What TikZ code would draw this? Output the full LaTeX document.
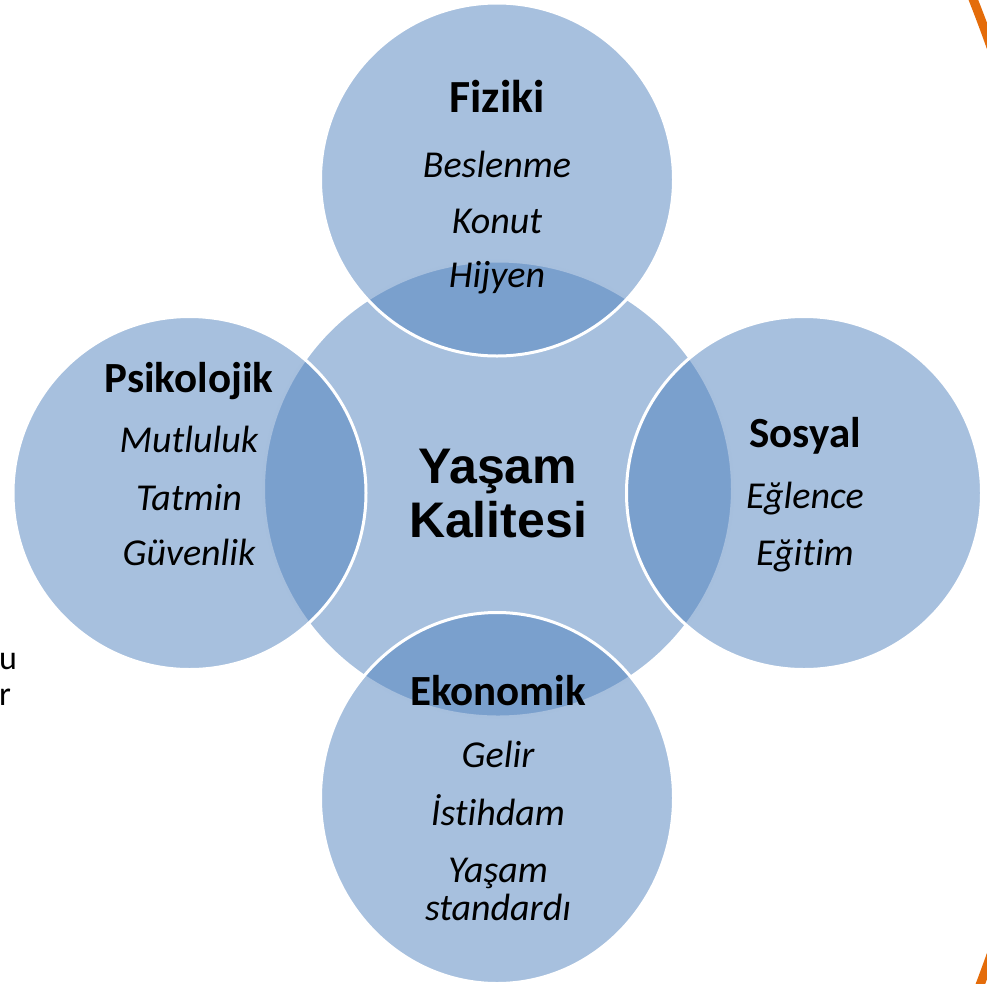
\documentclass[tikz,border=0pt]{standalone}
\usepackage{fontspec}
\setmainfont{Carlito}[RawFeature=-liga]
\newfontfamily\arialfont{Liberation Sans}
\usetikzlibrary{shapes.geometric}
\definecolor{qblue}{HTML}{4F81BD}
\definecolor{qorange}{HTML}{E46C0A}
\begin{document}
\begin{tikzpicture}[x=1pt,y=-1pt,
  bubble/.style={ellipse, inner sep=0pt, fill=qblue, fill opacity=0.5, draw=white, draw opacity=1, line width=3pt},
  head/.style={anchor=base, inner sep=0pt, font=\fontsize{43}{50}\selectfont\bfseries},
  item/.style={anchor=base, inner sep=0pt, font=\fontsize{38}{44}\selectfont\itshape},
  core/.style={anchor=base, inner sep=0pt, font=\arialfont\fontsize{50}{54}\selectfont\bfseries},
  stray/.style={anchor=base west, inner sep=0pt, font=\fontsize{34}{40}\selectfont},
  rim/.style={draw=qorange, line width=9pt}
]
\useasboundingbox (0,0) rectangle (987,983);
\begin{scope}
  \clip (0,0) rectangle (987,983);
  \coordinate (rimc) at (-295,501);
  \draw[rim] (rimc) circle[radius=1363.4];
\end{scope}

% circles
\node[bubble, minimum width=469pt, minimum height=456pt] (center) at (498,489) {};
\node[bubble, minimum width=353pt, minimum height=353pt] (fiz) at (497,179.5) {};
\node[bubble, minimum width=355pt, minimum height=353pt] (sos) at (804,493) {};
\node[bubble, minimum width=353pt, minimum height=371pt] (eko) at (497,798) {};
\node[bubble, minimum width=353pt, minimum height=353pt] (psi) at (189.5,493) {};

% centre text
\node[core] (t1) at (498,483) {Yaşam};
\node[core] (t2) at (498,537) {Kalitesi};

% Fiziki
\node[head, font=\fontsize{46}{52}\selectfont\bfseries] (fh) at (497,112) {Fiziki};
\node[item] (f1) at (497,177) {Beslenme};
\node[item] (f2) at (497,233) {Konut};
\node[item] (f3) at (497,287) {Hijyen};

% Psikolojik
\node[head] (ph) at (189,392) {Psikolojik};
\node[item] (p1) at (189,452) {Mutluluk};
\node[item] (p2) at (189,510) {Tatmin};
\node[item] (p3) at (189,565) {Güvenlik};

% Sosyal
\node[head] (sh) at (805,447) {Sosyal};
\node[item] (s1) at (805,508) {Eğlence};
\node[item] (s2) at (805,565) {Eğitim};

% Ekonomik
\node[head] (eh) at (498,705) {Ekonomik};
\node[item] (e1) at (498,767) {Gelir};
\node[item] (e2) at (498,825) {İstihdam};
\node[item] (e3) at (498,882) {Yaşam};
\node[item] (e4) at (498,920) {standardı};

% cut-off text at left edge
\node[stray] (su) at (-1,669) {u};
\node[stray] (sr) at (-1,705) {r};
\end{tikzpicture}
\end{document}
